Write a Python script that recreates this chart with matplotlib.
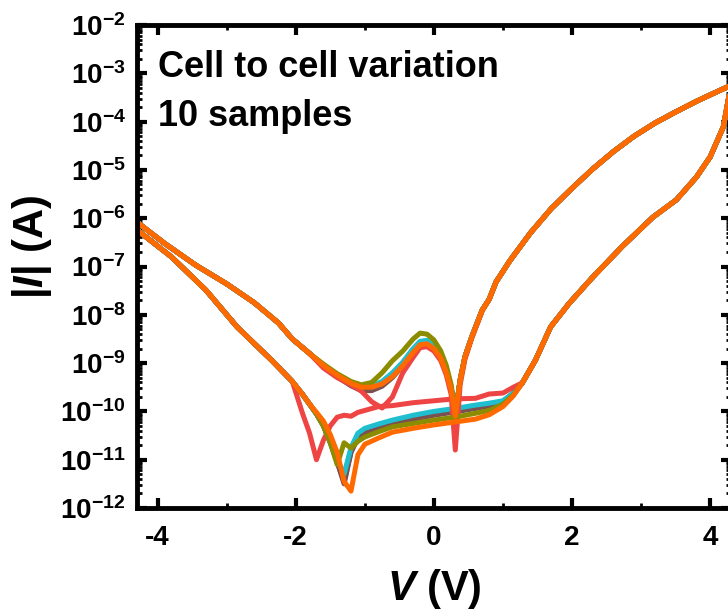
import matplotlib
matplotlib.use('Agg')
import matplotlib.pyplot as plt
import numpy as np
from matplotlib.ticker import LogLocator, MultipleLocator, FuncFormatter, NullFormatter

plt.rcParams['font.family'] = ['Liberation Sans', 'DejaVu Sans']
plt.rcParams['font.weight'] = 'bold'
plt.rcParams['axes.unicode_minus'] = False
plt.rcParams['mathtext.fontset'] = 'custom'
plt.rcParams['mathtext.rm'] = 'Liberation Sans:bold'
plt.rcParams['mathtext.bf'] = 'Liberation Sans:bold'
plt.rcParams['mathtext.it'] = 'Liberation Sans:italic:bold'
plt.rcParams['mathtext.default'] = 'regular'

# ---- data: log10(|I|) ----
# forward sweep (-4.3 V -> +4.3 V), parts shared by all samples
fwd_left_v = [-4.30, -3.80, -3.30, -2.85, -2.35, -2.05]
fwd_left_log = [-6.24, -6.80, -7.49, -8.25, -8.94, -9.38]
fwd_right_v = [1.28, 1.47, 1.69, 1.96, 2.30, 2.73, 3.17, 3.51, 3.80, 4.00, 4.19, 4.30]
fwd_right_log = [-9.41, -8.94, -8.25, -7.76, -7.22, -6.58, -5.98, -5.62, -5.15, -4.73, -4.11, -3.25]

# reverse sweep (+4.3 V -> -4.3 V), parts shared by all samples
rev_right_v = [4.30, 4.10, 3.80, 3.50, 3.20, 2.90, 2.60, 2.30, 2.00, 1.70, 1.40, 1.10, 0.90]
rev_right_log = [-3.25, -3.38, -3.58, -3.80, -4.03, -4.30, -4.62, -4.98, -5.38, -5.80,
                 -6.30, -6.88, -7.32]
rev_left_v = [-1.80, -2.05, -2.25, -2.60, -3.00, -3.45, -3.90, -4.30]
rev_left_log = [-8.80, -8.50, -8.17, -7.75, -7.36, -6.97, -6.52, -6.08]

# middle parts, one row per sample
fwd_mid_v = [-1.90, -1.80, -1.70, -1.60, -1.50, -1.40, -1.30, -1.20, -1.10, -1.00,
             -0.80, -0.60, -0.30, 0.00, 0.30, 0.60, 0.80, 1.00, 1.15]
rev_mid_v = [0.80, 0.70, 0.55, 0.45, 0.38, 0.31, 0.25, 0.18, 0.10, 0.00, -0.10,
             -0.20, -0.30, -0.45, -0.60, -0.75, -0.90, -1.05, -1.20, -1.40, -1.60]

colors = ['#2ca02c', '#9467bd', '#1f77b4', '#e377c2', '#7f7f7f',
          '#7a5050', '#1fbfcf', '#ee4444', '#8c8c00', '#ff6a00']

fwd_mid_log = [
    [-9.65, -9.85, -10.05, -10.28, -10.62, -11.02, -11.40, -10.80, -10.50, -10.40,
     -10.30, -10.22, -10.12, -10.04, -9.97, -9.90, -9.86, -9.80, -9.63],
    [-9.65, -9.85, -10.05, -10.29, -10.63, -11.03, -11.45, -10.82, -10.52, -10.42,
     -10.32, -10.24, -10.14, -10.06, -9.99, -9.92, -9.87, -9.81, -9.63],
    [-9.65, -9.85, -10.05, -10.28, -10.61, -11.01, -11.35, -10.78, -10.48, -10.38,
     -10.28, -10.20, -10.10, -10.02, -9.96, -9.89, -9.85, -9.79, -9.62],
    [-9.65, -9.85, -10.05, -10.29, -10.64, -11.04, -11.48, -10.84, -10.54, -10.44,
     -10.34, -10.26, -10.15, -10.07, -10.00, -9.93, -9.88, -9.82, -9.64],
    [-9.65, -9.85, -10.05, -10.28, -10.62, -11.02, -11.42, -10.81, -10.51, -10.41,
     -10.31, -10.23, -10.13, -10.05, -9.98, -9.91, -9.86, -9.80, -9.63],
    [-9.65, -9.85, -10.05, -10.30, -10.65, -11.05, -11.50, -10.85, -10.55, -10.45,
     -10.35, -10.27, -10.16, -10.08, -10.01, -9.94, -9.89, -9.82, -9.64],
    [-9.65, -9.85, -10.05, -10.28, -10.60, -11.00, -11.30, -10.75, -10.45, -10.35,
     -10.26, -10.18, -10.08, -10.00, -9.94, -9.87, -9.83, -9.78, -9.62],
    [-10.05, -10.45, -11.00, -10.60, -10.30, -10.12, -10.08, -10.10, -10.02, -9.98,
     -9.90, -9.88, -9.82, -9.78, -9.74, -9.73, -9.64, -9.62, -9.50],
    [-9.65, -9.85, -10.05, -10.30, -10.65, -11.10, -10.65, -10.76, -10.62, -10.53,
     -10.42, -10.32, -10.25, -10.18, -10.12, -10.04, -9.98, -9.85, -9.66],
    [-9.65, -9.85, -10.02, -10.20, -10.48, -10.85, -11.45, -11.65, -10.90, -10.68,
     -10.55, -10.43, -10.35, -10.28, -10.22, -10.16, -10.07, -9.90, -9.68],
]

rev_mid_log = [
    [-7.68, -7.90, -8.45, -8.87, -9.35, -10.09, -9.51, -9.13, -8.84, -8.64, -8.55,
     -8.57, -8.73, -9.01, -9.25, -9.43, -9.52, -9.52, -9.44, -9.26, -9.06],
    [-7.68, -7.90, -8.45, -8.87, -9.35, -10.09, -9.51, -9.14, -8.85, -8.65, -8.56,
     -8.58, -8.74, -9.03, -9.27, -9.45, -9.54, -9.54, -9.45, -9.27, -9.06],
    [-7.68, -7.90, -8.45, -8.87, -9.35, -10.08, -9.50, -9.12, -8.83, -8.63, -8.54,
     -8.56, -8.71, -8.99, -9.22, -9.40, -9.49, -9.50, -9.42, -9.25, -9.05],
    [-7.68, -7.90, -8.45, -8.87, -9.35, -10.10, -9.52, -9.15, -8.86, -8.66, -8.57,
     -8.59, -8.75, -9.04, -9.28, -9.46, -9.55, -9.55, -9.46, -9.28, -9.07],
    [-7.68, -7.90, -8.45, -8.87, -9.35, -10.09, -9.51, -9.13, -8.84, -8.64, -8.55,
     -8.57, -8.72, -9.00, -9.24, -9.42, -9.51, -9.51, -9.43, -9.26, -9.06],
    [-7.68, -7.90, -8.45, -8.87, -9.35, -10.10, -9.52, -9.15, -8.86, -8.66, -8.57,
     -8.60, -8.76, -9.05, -9.30, -9.48, -9.57, -9.57, -9.47, -9.28, -9.07],
    [-7.68, -7.90, -8.45, -8.87, -9.35, -10.08, -9.50, -9.12, -8.82, -8.62, -8.53,
     -8.55, -8.70, -8.98, -9.20, -9.38, -9.47, -9.48, -9.40, -9.24, -9.05],
    [-7.68, -7.92, -8.48, -8.92, -9.45, -10.80, -9.65, -9.25, -8.95, -8.75, -8.66,
     -8.68, -8.88, -9.20, -9.70, -9.93, -9.80, -9.58, -9.45, -9.30, -9.10],
    [-7.68, -7.90, -8.45, -8.87, -9.35, -10.05, -9.45, -9.05, -8.75, -8.52, -8.40,
     -8.38, -8.50, -8.75, -8.95, -9.20, -9.40, -9.45, -9.38, -9.22, -9.02],
    [-7.68, -7.90, -8.45, -8.87, -9.35, -10.10, -9.55, -9.20, -8.90, -8.70, -8.60,
     -8.62, -8.78, -9.05, -9.28, -9.43, -9.50, -9.50, -9.42, -9.25, -9.05],
]

fig = plt.figure(figsize=(7.28, 6.13), dpi=100)
ax = fig.add_axes([0.188, 0.1713, 1.004 - 0.188, 0.9592 - 0.1713])

for i in range(len(colors)):
    v = fwd_left_v + fwd_mid_v + fwd_right_v + rev_right_v + rev_mid_v + rev_left_v
    lg = (fwd_left_log + fwd_mid_log[i] + fwd_right_log + rev_right_log
          + rev_mid_log[i] + rev_left_log)
    ax.plot(v, 10.0 ** np.array(lg), color=colors[i], lw=3.6,
            solid_joinstyle='round', solid_capstyle='round')

ax.set_yscale('log')
ax.set_xlim(-4.3, 4.3)
ax.set_ylim(1e-12, 1e-2)

ax.xaxis.set_major_locator(MultipleLocator(2))
ax.xaxis.set_minor_locator(MultipleLocator(1))
ax.yaxis.set_major_locator(LogLocator(base=10, numticks=20))
ax.yaxis.set_minor_locator(LogLocator(base=10, subs=np.arange(2, 10), numticks=20))
ax.yaxis.set_minor_formatter(NullFormatter())
ax.yaxis.set_major_formatter(FuncFormatter(
    lambda y, p: r'$\mathregular{10^{%d}}$' % int(round(np.log10(y)))))

ax.tick_params(which='both', direction='in', top=True, right=True, labelsize=20)
ax.tick_params(which='major', length=7, width=3, pad=8)
ax.tick_params(which='minor', length=3.5, width=2)
ax.tick_params(axis='x', which='major', pad=12)
for s in ax.spines.values():
    s.set_linewidth(3.5)

ax.set_xlabel(r'$\mathit{V}$ (V)', fontsize=30, fontweight='bold', labelpad=12)
ax.set_ylabel(r'|$\mathit{I}$| (A)', fontsize=30, fontweight='bold')
ax.yaxis.set_label_coords(-0.14, 0.54)

ax.text(0.035, 0.892, 'Cell to cell variation', transform=ax.transAxes,
        fontsize=26, fontweight='bold', va='baseline')
ax.text(0.035, 0.791, '10 samples', transform=ax.transAxes,
        fontsize=26, fontweight='bold', va='baseline')

fig.savefig('out.png', dpi=100)
